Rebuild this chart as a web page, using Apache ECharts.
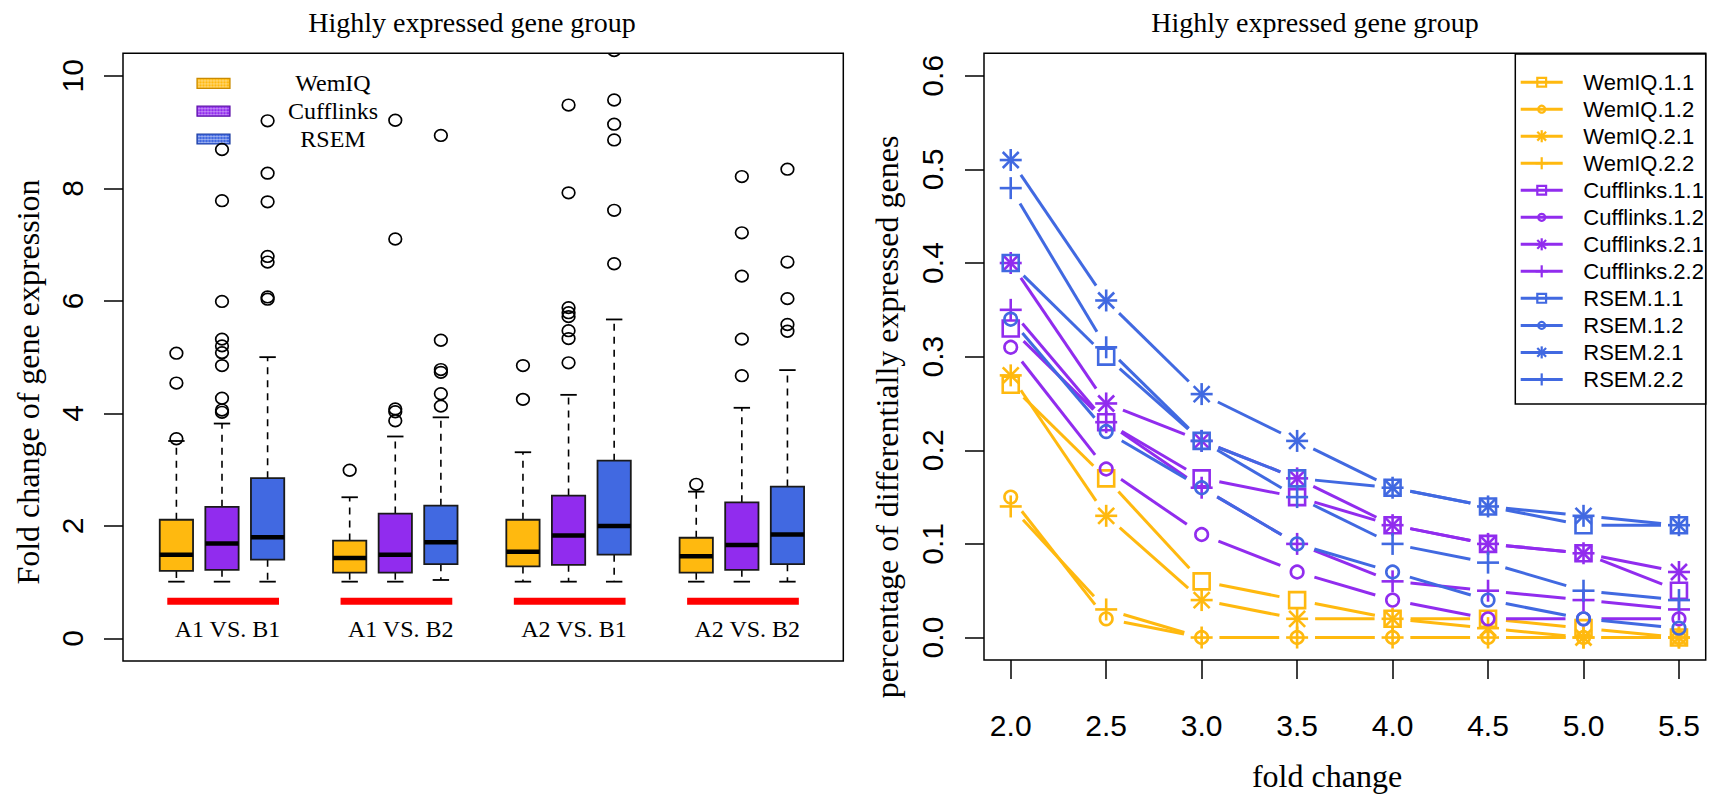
<!DOCTYPE html>
<html><head><meta charset="utf-8">
<script src="https://cdn.jsdelivr.net/npm/echarts@6/dist/echarts.min.js"></script>
<style>html,body{margin:0;padding:0;background:#fff}#c{width:1713px;height:797px}</style>
</head><body><div id="c"></div>
<script>
// ---------------- data: left panel (box plots) ----------------
const groupLabels = ['A1 VS. B1', 'A1 VS. B2', 'A2 VS. B1', 'A2 VS. B2'];
const methodNames = ['WemIQ', 'Cufflinks', 'RSEM'];
// [lower whisker, Q1, median, Q3, upper whisker] for each group
const wemiqStats = [[1.01,1.20,1.49,2.11,3.51],[1.01,1.17,1.43,1.74,2.51],[1.01,1.28,1.54,2.11,3.31],[1.01,1.17,1.46,1.79,2.61]];
const cufflinksStats = [[1.01,1.22,1.69,2.34,3.82],[1.01,1.17,1.49,2.22,3.59],[1.01,1.31,1.83,2.54,4.33],[1.01,1.22,1.66,2.42,4.10]];
const rsemStats = [[1.01,1.40,1.80,2.85,5.00],[1.04,1.32,1.71,2.36,3.93],[1.01,1.49,2.00,3.16,5.67],[1.01,1.32,1.85,2.70,4.77]];
const wemiqOutliers = [[3.55,4.54,5.07],[2.99],[4.25,4.85],[2.74]];
const cufflinksOutliers = [[4.02,4.06,4.27,4.85,5.08,5.20,5.32,5.99,7.78,8.69],[3.87,4.03,4.08,7.10,9.21],[4.90,5.33,5.47,5.72,5.79,5.88,7.92,9.48],[4.67,5.32,6.44,7.21,8.21]];
const rsemOutliers = [[6.03,6.07,6.69,6.79,7.76,8.27,9.20],[4.13,4.35,4.73,4.78,5.30,8.94],[6.66,7.61,8.86,9.14,9.57,10.45],[5.46,5.58,6.04,6.69,8.34]];
const leftYTicks = [0, 2, 4, 6, 8, 10];

// ---------------- data: right panel (lines) ----------------
const foldChanges = [2.0, 2.5, 3.0, 3.5, 4.0, 4.5, 5.0, 5.5];
const wemiq11 = [0.27,0.17,0.06,0.04,0.02,0.02,0.01,0.00];
const wemiq12 = [0.15,0.02,0.00,0.00,0.00,0.00,0.00,0.00];
const wemiq21 = [0.28,0.13,0.04,0.02,0.02,0.01,0.00,0.00];
const wemiq22 = [0.14,0.03,0.00,0.00,0.00,0.00,0.00,0.00];
const cufflinks11 = [0.33,0.23,0.17,0.15,0.12,0.10,0.09,0.05];
const cufflinks12 = [0.31,0.18,0.11,0.07,0.04,0.02,0.02,0.02];
const cufflinks21 = [0.40,0.25,0.21,0.17,0.12,0.10,0.09,0.07];
const cufflinks22 = [0.35,0.23,0.16,0.10,0.06,0.05,0.04,0.03];
const rsem11 = [0.40,0.30,0.21,0.17,0.16,0.14,0.12,0.12];
const rsem12 = [0.34,0.22,0.16,0.10,0.07,0.04,0.02,0.01];
const rsem21 = [0.51,0.36,0.26,0.21,0.16,0.14,0.13,0.12];
const rsem22 = [0.48,0.31,0.21,0.15,0.10,0.08,0.05,0.04];
const lineNames = ['WemIQ.1.1','WemIQ.1.2','WemIQ.2.1','WemIQ.2.2','Cufflinks.1.1','Cufflinks.1.2','Cufflinks.2.1','Cufflinks.2.2','RSEM.1.1','RSEM.1.2','RSEM.2.1','RSEM.2.2'];
const lineValues = [wemiq11, wemiq12, wemiq21, wemiq22, cufflinks11, cufflinks12, cufflinks21, cufflinks22, rsem11, rsem12, rsem21, rsem22];
const rightYTicks = [0, 0.1, 0.2, 0.3, 0.4, 0.5, 0.6];

// ---------------- styles / layout ----------------
const COLORS = ['#FFB90F', '#912CEE', '#4169E1'];
const MARKERS = ['square', 'circle', 'asterisk', 'plus'];
const GROUP_STEP = 3.8, BOX_HALF = 0.365, CAP_HALF = 0.18;
const SERIF = '"Liberation Serif", "DejaVu Serif", serif';
const SANS = '"Liberation Sans", Arial, sans-serif';
const GAP = 18;

const statsByMethod = [wemiqStats, cufflinksStats, rsemStats];
const outByMethod = [wemiqOutliers, cufflinksOutliers, rsemOutliers];
const pos = (g, m) => g * GROUP_STEP + m;

function boxRenderer(color) {
  return function (params, api) {
    const x = api.value(0);
    const c = [1, 2, 3, 4, 5].map(i => api.coord([x, api.value(i)]));
    const hw = api.size([BOX_HALF, 0])[0];
    const cw = api.size([CAP_HALF, 0])[0];
    const cx = c[0][0];
    const dash = { stroke: '#000', lineWidth: 1.6, lineDash: [7, 6] };
    const solid = { stroke: '#000', lineWidth: 1.8 };
    return { type: 'group', children: [
      { type: 'line', shape: { x1: cx, y1: c[3][1], x2: cx, y2: c[4][1] }, style: dash },
      { type: 'line', shape: { x1: cx, y1: c[1][1], x2: cx, y2: c[0][1] }, style: dash },
      { type: 'line', shape: { x1: cx - cw, y1: c[4][1], x2: cx + cw, y2: c[4][1] }, style: solid },
      { type: 'line', shape: { x1: cx - cw, y1: c[0][1], x2: cx + cw, y2: c[0][1] }, style: solid },
      { type: 'rect', shape: { x: cx - hw, y: c[3][1], width: 2 * hw, height: c[1][1] - c[3][1] }, style: { fill: color, stroke: '#1a1a1a', lineWidth: 1.8 } },
      { type: 'line', shape: { x1: cx - hw, y1: c[2][1], x2: cx + hw, y2: c[2][1] }, style: { stroke: '#000', lineWidth: 4.5 } }
    ] };
  };
}
function outlierRenderer(params, api) {
  const p = api.coord([api.value(0), api.value(1)]);
  return { type: 'ellipse', shape: { cx: p[0], cy: p[1], rx: 6.3, ry: 5.8 }, style: { fill: 'none', stroke: '#000', lineWidth: 1.7 } };
}
function groupMarkRenderer(params, api) {
  const x = api.value(0);
  const a = api.coord([x - 1.2, 0.66]), b = api.coord([x + 1.25, 0.66]);
  const t = api.coord([x + 0.12, 0.17]);
  return { type: 'group', children: [
    { type: 'line', shape: { x1: a[0], y1: a[1], x2: b[0], y2: b[1] }, style: { stroke: '#FF0000', lineWidth: 7 } },
    { type: 'text', x: t[0], y: t[1], style: { text: groupLabels[params.dataIndex], fill: '#000', font: '24px ' + SERIF, align: 'center', verticalAlign: 'middle' } }
  ] };
}
function markerEls(kind, x, y, s, color, lw) {
  const st = { stroke: color, lineWidth: lw, fill: 'none' };
  if (kind === 'square') return [{ type: 'rect', shape: { x: x - 8 * s, y: y - 8 * s, width: 16 * s, height: 16 * s }, style: st }];
  if (kind === 'circle') return [{ type: 'circle', shape: { cx: x, cy: y, r: 6.3 * s }, style: st }];
  const a = 11 * s;
  const els = [
    { type: 'line', shape: { x1: x - a, y1: y, x2: x + a, y2: y }, style: st },
    { type: 'line', shape: { x1: x, y1: y - a, x2: x, y2: y + a }, style: st }
  ];
  if (kind === 'asterisk') {
    const d = 8 * s;
    els.push({ type: 'line', shape: { x1: x - d, y1: y - d, x2: x + d, y2: y + d }, style: st });
    els.push({ type: 'line', shape: { x1: x - d, y1: y + d, x2: x + d, y2: y - d }, style: st });
  }
  return els;
}
function lineRenderer(color, kind, values) {
  return function (params, api) {
    const i = params.dataIndex;
    const p = api.coord([api.value(0), api.value(1)]);
    const children = markerEls(kind, p[0], p[1], 1, color, 2.6);
    if (i < values.length - 1) {
      const q = api.coord([foldChanges[i + 1], values[i + 1]]);
      const dx = q[0] - p[0], dy = q[1] - p[1], L = Math.hypot(dx, dy);
      if (L > 2 * GAP) {
        const ux = dx / L, uy = dy / L;
        children.push({ type: 'line', shape: { x1: p[0] + ux * GAP, y1: p[1] + uy * GAP, x2: q[0] - ux * GAP, y2: q[1] - uy * GAP }, style: { stroke: color, lineWidth: 3 } });
      }
    }
    return { type: 'group', children };
  };
}

const series = [];
statsByMethod.forEach((stats, m) => {
  series.push({ type: 'custom', name: methodNames[m], xAxisIndex: 0, yAxisIndex: 0, clip: true,
    data: stats.map((s, g) => [pos(g, m)].concat(s)), encode: { x: 0, y: [1, 2, 3, 4, 5] },
    renderItem: boxRenderer(COLORS[m]) });
});
series.push({ type: 'custom', xAxisIndex: 0, yAxisIndex: 0, clip: true,
  data: groupLabels.map((l, g) => [pos(g, 1), 0.66]), encode: { x: 0, y: 1 }, renderItem: groupMarkRenderer });
outByMethod.forEach((outs, m) => {
  const data = [];
  outs.forEach((arr, g) => arr.forEach(v => data.push([pos(g, m), v])));
  series.push({ type: 'custom', xAxisIndex: 0, yAxisIndex: 0, clip: true, data, encode: { x: 0, y: 1 }, renderItem: outlierRenderer });
});
lineValues.forEach((vals, k) => {
  const color = COLORS[Math.floor(k / 4)], kind = MARKERS[k % 4];
  series.push({ type: 'custom', name: lineNames[k], xAxisIndex: 1, yAxisIndex: 1, clip: false,
    data: vals.map((v, i) => [foldChanges[i], v]), encode: { x: 0, y: 1 }, renderItem: lineRenderer(color, kind, vals) });
});

// ---------------- legends & titles (graphic) ----------------
const graphic = [];
const txt = (x, y, text, font, opts) => Object.assign({ type: 'text', x, y, silent: true,
  style: { text, font, fill: '#000', align: 'center', verticalAlign: 'middle' } }, opts || {});
graphic.push(txt(472, 22, 'Highly expressed gene group', '28px ' + SERIF));
graphic.push(txt(1315, 22, 'Highly expressed gene group', '28px ' + SERIF));
graphic.push(txt(28, 382, 'Fold change of gene expression', '32px ' + SERIF, { rotation: Math.PI / 2 }));
graphic.push(txt(887, 417, 'percentage of differentially expressed genes', '32px ' + SERIF, { rotation: Math.PI / 2 }));
graphic.push(txt(1327, 776, 'fold change', '32px ' + SERIF));
// left legend
const legRows = [83.4, 111.2, 139];
const darker = ['#C98A00', '#5E13A8', '#1E3FA0'];
methodNames.forEach((name, m) => {
  const y0 = legRows[m] - 5, x0 = 197, w = 33, h = 10;
  graphic.push({ type: 'rect', silent: true, shape: { x: x0, y: y0, width: w, height: h }, style: { fill: COLORS[m], stroke: darker[m], lineWidth: 1.2 } });
  for (let xx = x0 + 2; xx < x0 + w - 1; xx += 3)
    graphic.push({ type: 'line', silent: true, shape: { x1: xx, y1: y0 + 1, x2: xx, y2: y0 + h - 1 }, style: { stroke: 'rgba(255,255,255,0.35)', lineWidth: 1 } });
  for (let yy = y0 + 2.5; yy < y0 + h - 1; yy += 3)
    graphic.push({ type: 'line', silent: true, shape: { x1: x0 + 1, y1: yy, x2: x0 + w - 1, y2: yy }, style: { stroke: 'rgba(255,255,255,0.35)', lineWidth: 1 } });
  graphic.push(txt(333, legRows[m], name, '24px ' + SERIF));
});
// right legend
graphic.push({ type: 'rect', silent: true, shape: { x: 1515.3, y: 54, width: 190.4, height: 350 }, style: { fill: '#fff', stroke: '#000', lineWidth: 1.5 } });
lineNames.forEach((name, k) => {
  const y = 82.2 + k * 27.02, color = COLORS[Math.floor(k / 4)];
  graphic.push({ type: 'line', silent: true, shape: { x1: 1520.7, y1: y, x2: 1562.7, y2: y }, style: { stroke: color, lineWidth: 3 } });
  markerEls(MARKERS[k % 4], 1541.7, y, 0.55, color, 2.2).forEach(e => { e.silent = true; graphic.push(e); });
  graphic.push({ type: 'text', x: 1583.3, y, silent: true, style: { text: name, font: '22px ' + SANS, fill: '#000', align: 'left', verticalAlign: 'middle' } });
});

const tickStyle = { color: '#000', width: 1.5 };
const option = {
  animation: false,
  backgroundColor: '#fff',
  grid: [
    { left: 123, top: 53.3, width: 720.3, height: 607.7, show: true, borderColor: '#000', borderWidth: 1.5, backgroundColor: 'transparent', containLabel: false, outerBoundsMode: 'none' },
    { left: 984, top: 53.3, width: 721.7, height: 606.7, show: true, borderColor: '#000', borderWidth: 1.5, backgroundColor: 'transparent', containLabel: false, outerBoundsMode: 'none' }
  ],
  xAxis: [
    { gridIndex: 0, type: 'value', min: -1.171, max: 14.625, axisLine: { show: false, onZero: false }, axisTick: { show: false }, axisLabel: { show: false }, splitLine: { show: false } },
    { gridIndex: 1, type: 'value', position: 'bottom', min: 1.86, max: 5.64, axisLine: { show: false, onZero: false },
      axisTick: { show: true, length: 19, customValues: foldChanges, lineStyle: tickStyle },
      axisLabel: { customValues: foldChanges, formatter: v => v.toFixed(1), color: '#000', fontSize: 30, fontFamily: SANS, margin: 50 },
      splitLine: { show: false } }
  ],
  yAxis: [
    { gridIndex: 0, type: 'value', position: 'left', min: -0.4, max: 10.4, axisLine: { show: false, onZero: false },
      axisTick: { show: true, length: 19, customValues: leftYTicks, lineStyle: tickStyle },
      axisLabel: { customValues: leftYTicks, rotate: 90, color: '#000', fontSize: 30, fontFamily: SANS, margin: 36 },
      splitLine: { show: false } },
    { gridIndex: 1, type: 'value', position: 'left', min: -0.024, max: 0.624, axisLine: { show: false, onZero: false },
      axisTick: { show: true, length: 19, customValues: rightYTicks, lineStyle: tickStyle },
      axisLabel: { customValues: rightYTicks, rotate: 90, formatter: v => v.toFixed(1), color: '#000', fontSize: 30, fontFamily: SANS, margin: 37 },
      splitLine: { show: false } }
  ],
  graphic,
  series
};
const chart = echarts.init(document.getElementById('c'), null, { renderer: 'svg', width: 1713, height: 797 });
chart.setOption(option);
</script></body></html>
